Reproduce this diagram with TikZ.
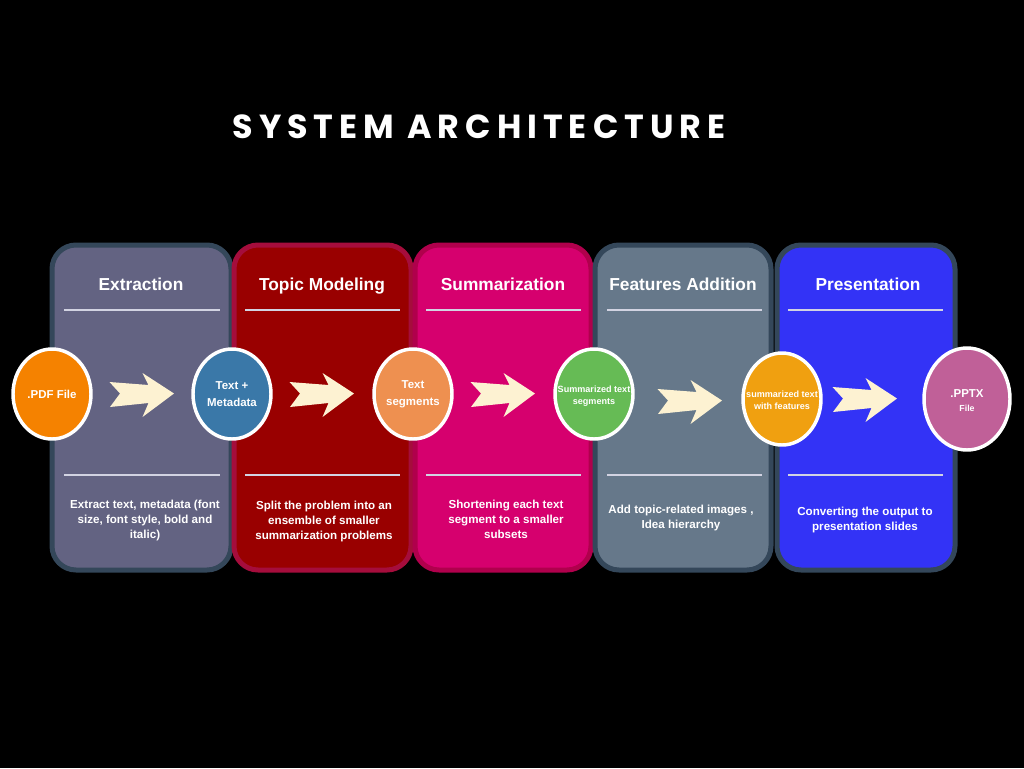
\documentclass[tikz,border=0pt]{standalone}
\usepackage{fontspec}
\setmainfont{Liberation Sans}
\newfontfamily\titlefont{Poppins}[LetterSpace=18]
\usetikzlibrary{shapes.geometric}
\definecolor{exfill}{HTML}{636382}
\definecolor{slateb}{HTML}{34475A}
\definecolor{tpfill}{HTML}{990000}
\definecolor{tpbord}{HTML}{A50D3C}
\definecolor{sufill}{HTML}{D6006E}
\definecolor{subord}{HTML}{B0004C}
\definecolor{fefill}{HTML}{66788A}
\definecolor{prfill}{HTML}{3333F6}
\definecolor{sepc}{HTML}{D2D3E2}
\definecolor{cream}{HTML}{FDF2D2}
\definecolor{cpdf}{HTML}{F58200}
\definecolor{cmeta}{HTML}{3A78A8}
\definecolor{cseg}{HTML}{EE9050}
\definecolor{csum}{HTML}{66BB55}
\definecolor{cfeat}{HTML}{F0A010}
\definecolor{cpptx}{HTML}{C06098}
\begin{document}
\begin{tikzpicture}[x=0.75pt,y=-0.75pt,
  panel/.style={line width=3.75pt, rounded corners=18pt},
  sep/.style={draw=sepc, line width=1.5pt},
  head/.style={text=white, inner sep=0pt, anchor=base, font=\bfseries\fontsize{13}{15}\selectfont},
  desc/.style={text=white, inner sep=0pt, align=center, font=\bfseries\fontsize{8.7}{11.25}\selectfont},
  blob/.style={ellipse, draw=white, line width=2.6pt, inner sep=0pt,
    minimum width=78*0.75pt, minimum height=90*0.75pt},
  blobtext/.style={text=white, align=center, inner sep=0pt,
    font=\bfseries\fontsize{8.6}{12}\selectfont},
  smalltext/.style={blobtext, font=\bfseries\fontsize{6.8}{9}\selectfont},
  chev/.pic={\fill[cream] (-33,-13) -- (6,-10) -- (0,-22) -- (31.5,-1.5) -- (0,22) -- (6,8) -- (-32.5,12) -- (-22.5,-1.5) -- cycle;}
]
\fill[black] (0,0) rectangle (1024,768);
\useasboundingbox (0,0) rectangle (1024,768);

\node[text=white, inner sep=0pt, font=\titlefont\bfseries\fontsize{25}{30}\selectfont] (title) at (479,127) {SYSTEM ARCHITECTURE};

% panels
\draw[panel, fill=exfill, draw=slateb] (52,245) rectangle (231,570);
\draw[panel, fill=tpfill, draw=tpbord] (234,245) rectangle (411,570);
\draw[panel, fill=sufill, draw=subord] (415,245) rectangle (591,570);
\draw[panel, fill=fefill, draw=slateb] (595,245) rectangle (771,570);
\draw[panel, fill=prfill, draw=slateb] (777,245) rectangle (955,570);

% separators
\foreach \a/\b in {64/220, 245/400, 426/581, 607/762, 788/943}{
  \draw[sep] (\a,310) -- (\b,310);
  \draw[sep] (\a,475) -- (\b,475);
}

% headers
\node[head] (h1) at (141,290) {Extraction};
\node[head] (h2) at (322,290) {Topic Modeling};
\node[head] (h3) at (503,290) {Summarization};
\node[head] (h4) at (683,290) {Features Addition};
\node[head] (h5) at (868,290) {Presentation};

% descriptions
\node[desc] (d1) at (145,520) {Extract text, metadata (font\\size, font style, bold and\\italic)};
\node[desc] (d2) at (324,521) {Split the problem into an\\ensemble of smaller\\summarization problems};
\node[desc] (d3) at (506,519) {Shortening each text\\segment to a smaller\\subsets};
\node[desc] (d4) at (681,518) {Add topic-related images ,\\Idea hierarchy};
\node[desc] (d5) at (865,520) {Converting the output to\\presentation slides};

% arrows
\pic at (142.5,395) {chev};
\pic at (322.5,395) {chev};
\pic at (503.5,395) {chev};
\pic at (690.5,402) {chev};
\pic at (865.5,400) {chev};

% circles
\node[blob, fill=cpdf] (c1) at (52,394) {};
\node[blobtext] (t1) at (c1) {.PDF File};
\node[blob, fill=cmeta] (c2) at (232,394) {};
\node[blobtext, font=\bfseries\fontsize{8.6}{12.5}\selectfont] (t2) at (c2) {Text +\\Metadata};
\node[blob, fill=cseg] (c3) at (413,394) {};
\node[blobtext, font=\bfseries\fontsize{8.6}{12.5}\selectfont] (t3) at (c3) {Text\\segments};
\node[blob, fill=csum] (c4) at (594,394) {};
\node[smalltext] (t4) at (594,396) {Summarized text\\segments};
\node[blob, fill=cfeat, minimum height=92*0.75pt] (c5) at (782,399) {};
\node[smalltext] (t5) at (782,400) {summarized text\\with features};
\node[blob, fill=cpptx, minimum width=86*0.75pt, minimum height=102*0.75pt] (c6) at (967,399) {};
\node[blobtext] (t6) at (967,401) {.PPTX\\[-1.5pt]{\fontsize{6.6}{8}\selectfont File}};
\end{tikzpicture}
\end{document}
